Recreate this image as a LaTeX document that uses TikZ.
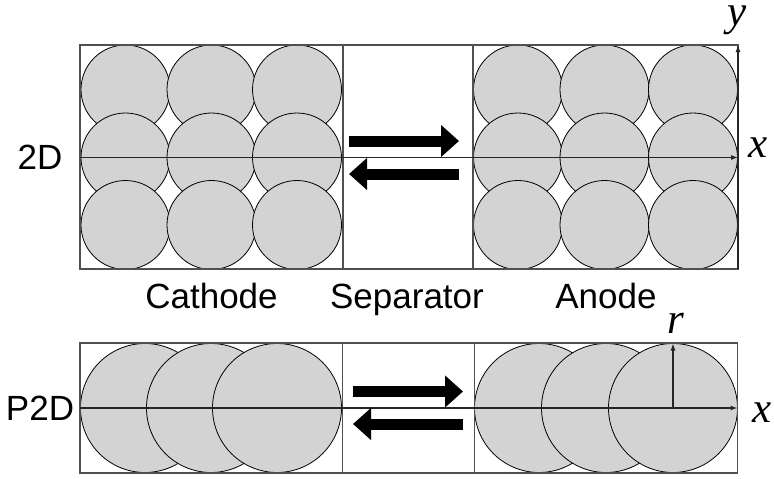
\documentclass[tikz,border=0pt]{standalone}
\usepackage{fontspec}
\setmainfont{Liberation Sans}
\newfontfamily\varfont{Liberation Serif}
\usetikzlibrary{arrows.meta}
\definecolor{ballgray}{RGB}{211,211,211}
\definecolor{framegray}{RGB}{80,80,80}
\tikzset{
  ball/.style={fill=ballgray,draw=black,line width=0.8pt},
  frame/.style={draw=framegray,line width=1.1pt},
  axis/.style={draw=black!85,line width=1.1pt,-{Latex[length=7pt,width=5pt]}},
  flux/.style={line width=11pt,-{Triangle[length=18pt,width=31pt]}},
  lab/.style={font=\fontsize{35}{40}\selectfont,inner sep=0pt},
  var/.style={font=\varfont\itshape\fontsize{43}{48}\selectfont,inner sep=0pt,anchor=base,text height=0.45em}
}
\begin{document}
\begin{tikzpicture}[x=1pt,y=-1pt]
\useasboundingbox (0,0) rectangle (774,479);
% ---------- 2D ----------
\foreach \yy in {89.5,157.5,225}{
  \foreach \xx in {125.5,211.5,297,518,604.5,693}{
    \draw[ball] (\xx,\yy) circle[radius=44.5];
  }
}
\draw[frame] (80,45) rectangle (738,269);
\draw[frame] (343,45) -- (343,269);
\draw[frame] (473,45) -- (473,269);
\coordinate (ax0) at (80,157.5);
\coordinate (ax1) at (738,157.5);
\coordinate (ay0) at (738,269);
\coordinate (ay1) at (738,45);
\draw[axis] (ax0) -- (ax1);
\draw[axis] (ay0) -- (ay1);
\coordinate (ra0) at (349,141);
\coordinate (ra1) at (459,141);
\coordinate (la0) at (459,174);
\coordinate (la1) at (349,174);
\draw[flux] (ra0) -- (ra1);
\draw[flux] (la0) -- (la1);
\node[lab] (l2d) at (40,157) {2D};
\node[var] (vx) at (758,157) {x};
\node[var] (vy) at (737,25) {y};
% ---------- labels ----------
\node[lab,anchor=base] (cat) at (211.5,308) {Cathode};
\node[lab,anchor=base] (sep) at (407,308) {Separator};
\node[lab,anchor=base] (ano) at (606,308) {Anode};
% ---------- P2D ----------
\foreach \xx in {145,211,277,539,606,673}{
  \draw[ball] (\xx,408) circle[radius=64.5];
}
\draw[frame] (80,343) rectangle (737.5,473);
\draw[frame] (342.5,343) -- (342.5,473);
\draw[frame] (474.5,343) -- (474.5,473);
\coordinate (bx0) at (80,408);
\coordinate (bx1) at (737.5,408);
\coordinate (r0) at (673,408);
\coordinate (r1) at (673,343.5);
\draw[axis] (bx0) -- (bx1);
\draw[axis] (r0) -- (r1);
\coordinate (rb0) at (353,391.5);
\coordinate (rb1) at (463,391.5);
\coordinate (lb0) at (463,424);
\coordinate (lb1) at (353,424);
\draw[flux] (rb0) -- (rb1);
\draw[flux] (lb0) -- (lb1);
\node[lab] (lp2d) at (40,408) {P2D};
\node[var] (vx2) at (762,422) {x};
\node[var] (vr) at (676,333) {r};
\end{tikzpicture}
\end{document}
